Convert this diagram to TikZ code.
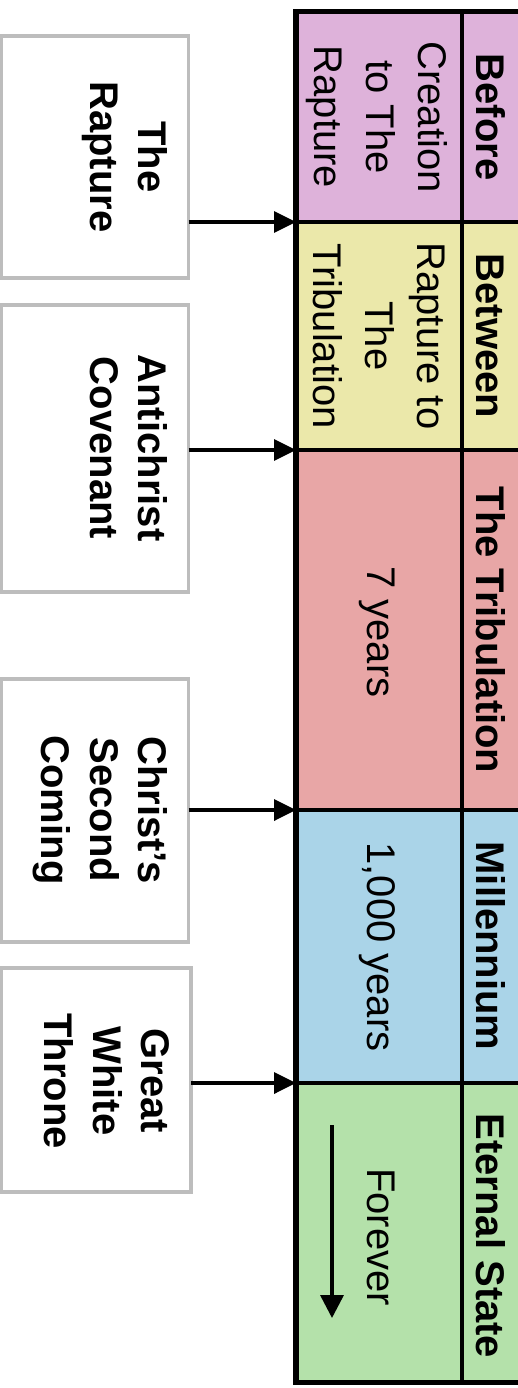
\documentclass[tikz,border=0pt]{standalone}
\usepackage{fontspec}
\setmainfont{Liberation Sans}
\usetikzlibrary{arrows.meta}
\definecolor{cpink}{HTML}{DEB2DA}
\definecolor{cyellow}{HTML}{EBE8AA}
\definecolor{cred}{HTML}{E8A6A6}
\definecolor{cblue}{HTML}{AAD4E8}
\definecolor{cgreen}{HTML}{B4E1AA}
\definecolor{boxgray}{HTML}{BDBDBD}
\begin{document}
\begin{tikzpicture}[x=1pt,y=-1pt,
  evbox/.style={draw=boxgray, line width=3.5pt, fill=white, outer sep=0pt, inner sep=0pt, anchor=north west},
  boxtext/.style={rotate=-90, anchor=north, align=center, inner sep=0pt, font=\bfseries\fontsize{40}{48.5}\selectfont},
  cell/.style={draw=black, line width=4.5pt, outer sep=0pt, inner sep=0pt, anchor=north west},
  ctext/.style={rotate=-90, align=center, inner sep=0pt, font=\fontsize{40}{52}\selectfont},
  htext/.style={rotate=-90, anchor=base, inner sep=0pt, font=\bfseries\fontsize{40}{48}\selectfont},
  arr/.style={line width=3.5pt, -{Triangle[length=22pt, width=21pt]}}
]
\useasboundingbox (0,0) rectangle (518,1388);
\fill[white] (0,0) rectangle (518,1388);
\clip (0,0) rectangle (518,1388);

% table cells
\node[cell, fill=cpink,   minimum width=166pt, minimum height=210.5pt] (c1) at (296,11.5) {};
\node[cell, fill=cyellow, minimum width=166pt, minimum height=228pt]   (c2) at (296,222) {};
\node[cell, fill=cred,    minimum width=166pt, minimum height=360pt]   (c3) at (296,450) {};
\node[cell, fill=cblue,   minimum width=166pt, minimum height=273pt]   (c4) at (296,810) {};
\node[cell, fill=cgreen,  minimum width=166pt, minimum height=299.5pt] (c5) at (296,1083) {};
\node[cell, fill=cpink,   minimum width=70pt, minimum height=210.5pt] (h1) at (462,11.5) {};
\node[cell, fill=cyellow, minimum width=70pt, minimum height=228pt]   (h2) at (462,222) {};
\node[cell, fill=cred,    minimum width=70pt, minimum height=360pt]   (h3) at (462,450) {};
\node[cell, fill=cblue,   minimum width=70pt, minimum height=273pt]   (h4) at (462,810) {};
\node[cell, fill=cgreen,  minimum width=70pt, minimum height=299.5pt] (h5) at (462,1083) {};
\draw[line width=5.5pt] (h1.north east) -- (c1.north west) -- (c5.south west) -- (h5.south east);

% header texts
\node[htext] (ht1) at (476,117) {Before};
\node[htext] (ht2) at (476,336) {Between};
\node[htext] (ht3) at (476,630) {The Tribulation};
\node[htext] (ht4) at (476,946) {Millennium};
\node[htext] (ht5) at (476,1236) {Eternal State};

% content texts
\node[ctext] (ct1) at (377,117) {Creation\\to The\\Rapture};
\node[ctext] (ct2) at (379,336) {Rapture to\\The\\Tribulation};
\node[ctext, anchor=base] (ct3) at (367,632) {7 years};
\node[ctext, anchor=base] (ct4) at (367,947) {1,000 years};
\node[ctext, anchor=base] (ct5) at (367,1237) {Forever};
\coordinate (f1) at (332,1125);
\coordinate (f2) at (332,1318);
\draw[line width=3.5pt, -{Triangle[length=23pt, width=23pt]}] (f1) -- (f2);

% event boxes
\node[evbox, minimum width=187pt, minimum height=242pt] (b1) at (1.5,36) {};
\node[evbox, minimum width=187pt, minimum height=287pt] (b2) at (1.5,305) {};
\node[evbox, minimum width=187pt, minimum height=263pt] (b3) at (1.5,679) {};
\node[evbox, minimum width=189.5pt, minimum height=224pt] (b4) at (1.5,968) {};
\node[boxtext] (l1) at (168,157) {The\\Rapture};
\node[boxtext] (l2) at (168,448) {Antichrist\\Covenant};
\node[boxtext] (l3) at (168,810) {Christ's\\Second\\Coming};
\node[boxtext] (l4) at (170,1081) {Great\\White\\Throne};

% connectors
\draw[arr] (b1.east |- c1.south west) -- (c1.south west);
\draw[arr] (b2.east |- c2.south west) -- (c2.south west);
\draw[arr] (b3.east |- c3.south west) -- (c3.south west);
\draw[arr] (b4.east |- c4.south west) -- (c4.south west);
\end{tikzpicture}
\end{document}
